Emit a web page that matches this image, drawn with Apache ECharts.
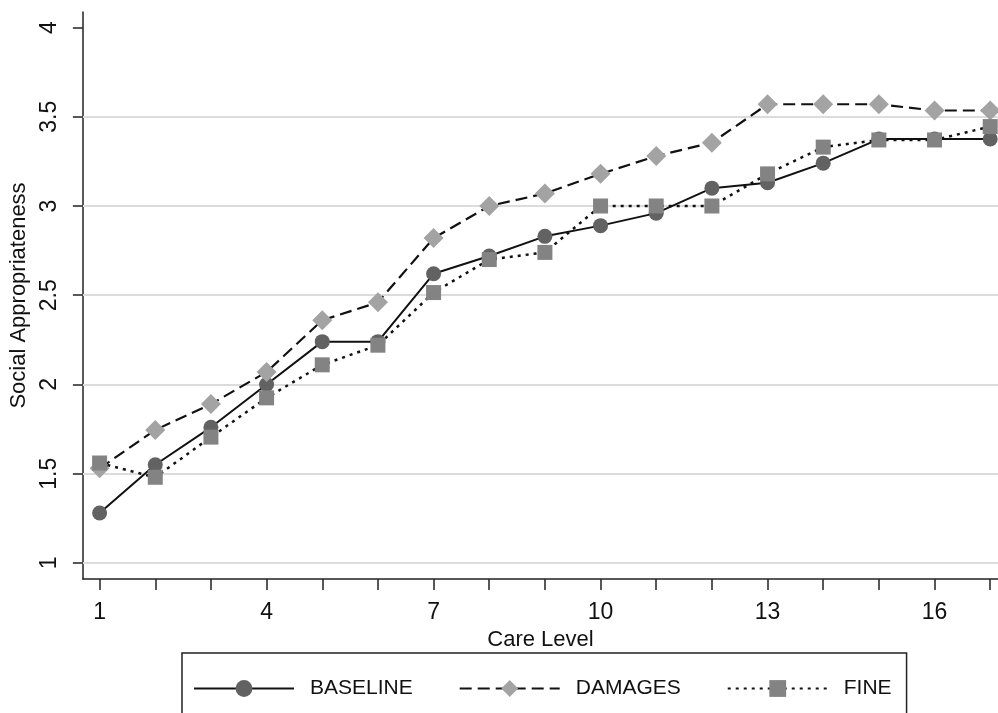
<!DOCTYPE html>
<html>
<head>
<meta charset="utf-8">
<script src="https://cdn.jsdelivr.net/npm/echarts@6/dist/echarts.min.js"></script>
<style>
html, body { margin: 0; padding: 0; background: #fff; }
#chart { width: 998px; height: 713px; }
</style>
</head>
<body>
<div id="chart"></div>
<script>
// ---- data ----
var careLevels = [1, 2, 3, 4, 5, 6, 7, 8, 9, 10, 11, 12, 13, 14, 15, 16, 17];
var baseline = [1.28, 1.55, 1.76, 2.00, 2.24, 2.24, 2.62, 2.72, 2.83, 2.89, 2.96, 3.10, 3.13, 3.24, 3.375, 3.375, 3.375];
var damages  = [1.53, 1.745, 1.89, 2.07, 2.36, 2.46, 2.82, 3.00, 3.07, 3.18, 3.28, 3.355, 3.57, 3.57, 3.57, 3.535, 3.535];
var fine     = [1.56, 1.48, 1.705, 1.925, 2.11, 2.22, 2.515, 2.70, 2.74, 3.00, 3.00, 3.00, 3.18, 3.33, 3.37, 3.37, 3.445];
var xTickValues = [1, 2, 3, 4, 5, 6, 7, 8, 9, 10, 11, 12, 13, 14, 15, 16, 17];
var xLabelValues = [1, 4, 7, 10, 13, 16];
var yTickValues = [1, 1.5, 2, 2.5, 3, 3.5, 4];
var gridValues = [1, 1.5, 2, 2.5, 3, 3.5];
var seriesNames = ['BASELINE', 'DAMAGES', 'FINE'];

function pairs(vals) {
  return careLevels.map(function (c, i) { return [c, vals[i]]; });
}

var FONT = '"Liberation Sans", Arial, sans-serif';
var chart = echarts.init(document.getElementById('chart'), null, { renderer: 'canvas' });

var option = {
  animation: false,
  backgroundColor: '#ffffff',
  textStyle: { fontFamily: FONT },
  grid: { left: 81.5, right: 0, top: 12, bottom: 134, containLabel: false },
  xAxis: {
    type: 'value',
    min: 0.70,
    max: 17.14,
    name: 'Care Level',
    nameLocation: 'middle',
    nameGap: 44,
    nameTextStyle: { fontSize: 22, color: '#111', fontFamily: FONT },
    axisLine: { show: true, onZero: false, lineStyle: { color: '#222', width: 1.5 } },
    axisTick: { show: true, length: 11, customValues: xTickValues, lineStyle: { color: '#222', width: 1.5 } },
    axisLabel: { show: true, customValues: xLabelValues, margin: 22, fontSize: 23, color: '#111', fontFamily: FONT },
    splitLine: { show: false }
  },
  yAxis: {
    type: 'value',
    min: 0.91,
    max: 4.087,
    name: 'Social Appropriateness',
    nameLocation: 'middle',
    nameGap: 50,
    nameRotate: 90,
    nameTextStyle: { fontSize: 22, color: '#111', fontFamily: FONT },
    axisLine: { show: true, onZero: false, lineStyle: { color: '#222', width: 1.5 } },
    axisTick: { show: true, length: 10, customValues: yTickValues, lineStyle: { color: '#222', width: 1.5 } },
    axisLabel: { show: true, customValues: yTickValues, rotate: 90, margin: 22, fontSize: 23, color: '#111', fontFamily: FONT },
    splitLine: { show: false }
  },
  legend: {
    left: 182,
    top: 653,
    orient: 'horizontal',
    data: seriesNames,
    itemWidth: 100,
    itemHeight: 21,
    itemGap: 46,
    padding: [25, 15, 30, 11],
    backgroundColor: '#ffffff',
    borderColor: '#222',
    borderWidth: 1.5,
    borderRadius: 0,
    textStyle: { fontSize: 21, color: '#111', fontFamily: FONT, padding: [0, 0, 0, 11] }
  },
  series: [
    {
      name: seriesNames[0],
      type: 'line',
      data: pairs(baseline),
      symbol: 'circle',
      symbolSize: 15,
      z: 3,
      itemStyle: { color: '#626262', borderWidth: 0 },
      lineStyle: { color: '#111', width: 2, type: 'solid' },
      markLine: {
        silent: true,
        symbol: ['none', 'none'],
        z: 1,
        label: { show: false },
        lineStyle: { color: '#dcdcdc', width: 2, type: 'solid' },
        data: gridValues.map(function (v) { return { yAxis: v }; })
      }
    },
    {
      name: seriesNames[1],
      type: 'line',
      data: pairs(damages),
      symbol: 'diamond',
      symbolSize: 20,
      z: 4,
      itemStyle: { color: '#a3a3a3', borderWidth: 0 },
      lineStyle: { color: '#111', width: 2.2, type: [12, 6] }
    },
    {
      name: seriesNames[2],
      type: 'line',
      data: pairs(fine),
      symbol: 'rect',
      symbolSize: 15,
      z: 5,
      itemStyle: { color: '#838383', borderWidth: 0 },
      lineStyle: { color: '#111', width: 2.5, type: [3, 5] }
    }
  ]
};

chart.setOption(option);
</script>
</body>
</html>
